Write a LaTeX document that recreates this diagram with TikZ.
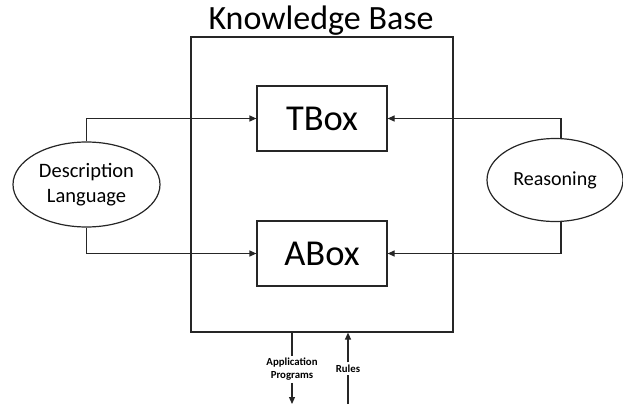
\documentclass[tikz,border=0pt]{standalone}
\usepackage{fontspec}
\setmainfont{Carlito}
\usetikzlibrary{shapes.geometric,arrows.meta}

\begin{document}
\begin{tikzpicture}[x=1pt,y=-1pt,
  ln/.style={draw=black!85,line width=1.2pt},
  arr/.style={ln,-{Triangle[length=7pt,width=6pt]}},
  boxnode/.style={ln,rectangle,inner sep=0pt,minimum width=130pt,minimum height=65pt,font=\fontsize{36.5}{42}\selectfont},
  bubble/.style={ln,ellipse,inner sep=0pt,align=center},
  small/.style={inner sep=2pt,align=center,font=\bfseries\fontsize{10.8}{13}\selectfont}]
  \useasboundingbox (0,0) rectangle (623,404);

  % knowledge base container and its title
  \node[ln,rectangle,inner sep=0pt,minimum width=262pt,minimum height=295pt] (kb) at (322,184.5) {};
  \node[anchor=base,inner sep=0pt,font=\fontsize{34}{40}\selectfont] (kbtitle) at (321,29.5) {Knowledge Base};

  % the two boxes inside
  \node[boxnode] (tbox) at (322,118.5) {TBox};
  \node[boxnode] (abox) at (322,253.5) {ABox};

  % outer sources
  \node[bubble,minimum width=147pt,minimum height=85pt,font=\fontsize{20.5}{24.5}\selectfont] (dl) at (86.5,184.5) {Description\\Language};
  \node[bubble,minimum width=136pt,minimum height=83pt,font=\fontsize{20}{24}\selectfont] (rs) at (555,180) {Reasoning};

  \draw[arr] (dl.north) |- (tbox.west);
  \draw[arr] (dl.south) |- (abox.west);
  \draw[arr] (rs.82) |- (tbox.east);
  \draw[arr] (rs.-82) |- (abox.east);

  % interfaces below the knowledge base
  \node[small] (app) at (292,369.5) {Application\\Programs};
  \node[small] (rules) at (348,368.5) {Rules};
  \coordinate (append) at (292,404);
  \coordinate (rulesend) at (348,404);

  \draw[ln] (kb.south -| app) -- (app.north);
  \draw[arr] (app.south) -- (append);
  \draw[ln] (rulesend) -- (rules.south);
  \draw[arr] (rules.north) -- (kb.south -| rules);
\end{tikzpicture}
\end{document}
